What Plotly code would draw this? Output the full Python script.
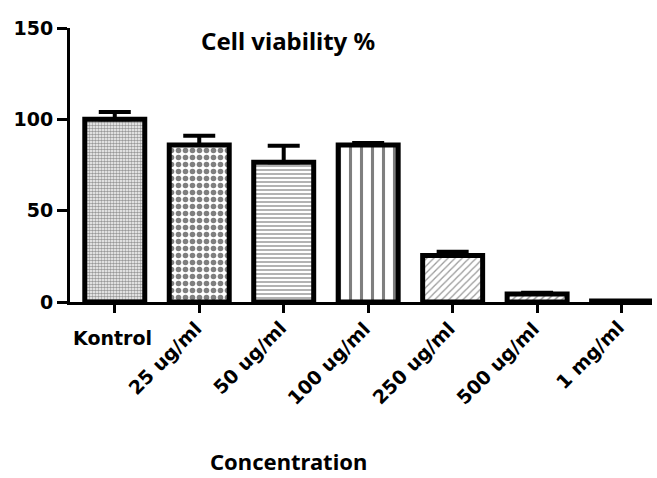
import plotly.graph_objects as go

categories = ["Kontrol", "25 ug/ml", "50 ug/ml", "100 ug/ml", "250 ug/ml", "500 ug/ml", "1 mg/ml"]
viability = [100, 86, 76.5, 86, 25.5, 4.4, 0.5]
sem = [4, 5, 9, 1, 2, 0.7, 0]
y_ticks = [0, 50, 100, 150]

patterns = [".", ".", "-", "|", "/", "/", ""]
pat_size = [3, 7, 4, 11, 5, 5, 6]
pat_solid = [0.6, 0.5, 0.45, 0.28, 0.25, 0.3, 0.3]
pat_fg = ["#333", "black", "#555", "black", "#333", "#333", "black"]

x_idx = list(range(len(categories)))

fig = go.Figure()
fig.add_trace(go.Bar(
    x=x_idx, y=viability, width=0.71,
    marker=dict(color="white", line=dict(color="black", width=5),
                pattern=dict(shape=patterns, size=pat_size, solidity=pat_solid,
                             fgcolor=pat_fg, bgcolor="white", fillmode="overlay")),
    error_y=dict(type="data", symmetric=False, array=sem, arrayminus=[0]*len(sem),
                 thickness=4, width=16, color="black"),
    showlegend=False,
))

tickfont = dict(family="DejaVu Sans", size=19, color="black", weight="bold")

annotations = []
for i, c in enumerate(categories):
    if i == 0:
        annotations.append(dict(x=i, y=-0.085, xref="x", yref="paper", text=c,
                                showarrow=False, xanchor="center", yanchor="top",
                                font=tickfont, xshift=-2))
    else:
        annotations.append(dict(x=i, y=-0.045, xref="x", yref="paper", text=c,
                                showarrow=False, xanchor="right", yanchor="top",
                                textangle=-45, font=tickfont, xshift=9))

annotations.append(dict(x=0.375, y=0.955, xref="paper", yref="paper",
                        text="Cell viability %", showarrow=False,
                        font=dict(family="Noto Sans", size=24, color="black", weight="bold"),
                        xanchor="center", yanchor="middle"))
annotations.append(dict(x=0.375, y=-0.58, xref="paper", yref="paper",
                        text="Concentration", showarrow=False,
                        font=dict(family="Noto Sans", size=22, color="black", weight="bold"),
                        xanchor="center", yanchor="middle"))

fig.update_layout(
    width=657, height=478,
    margin=dict(l=70, r=5, t=28, b=176),
    paper_bgcolor="white", plot_bgcolor="white",
    annotations=annotations,
    bargap=0.29,
)
fig.update_xaxes(range=[-0.53, 6.36], tickvals=x_idx, ticktext=[""]*len(x_idx),
                 showline=True, linecolor="black", linewidth=3,
                 ticks="outside", ticklen=8, tickwidth=2.5, tickcolor="black",
                 showgrid=False, zeroline=False)
fig.update_yaxes(range=[0, 150], tickvals=y_ticks,
                 showline=True, linecolor="black", linewidth=3,
                 ticks="outside", ticklen=10, tickwidth=2.5, tickcolor="black",
                 tickfont=tickfont, showgrid=False, zeroline=False)

fig.write_html("out.html")
